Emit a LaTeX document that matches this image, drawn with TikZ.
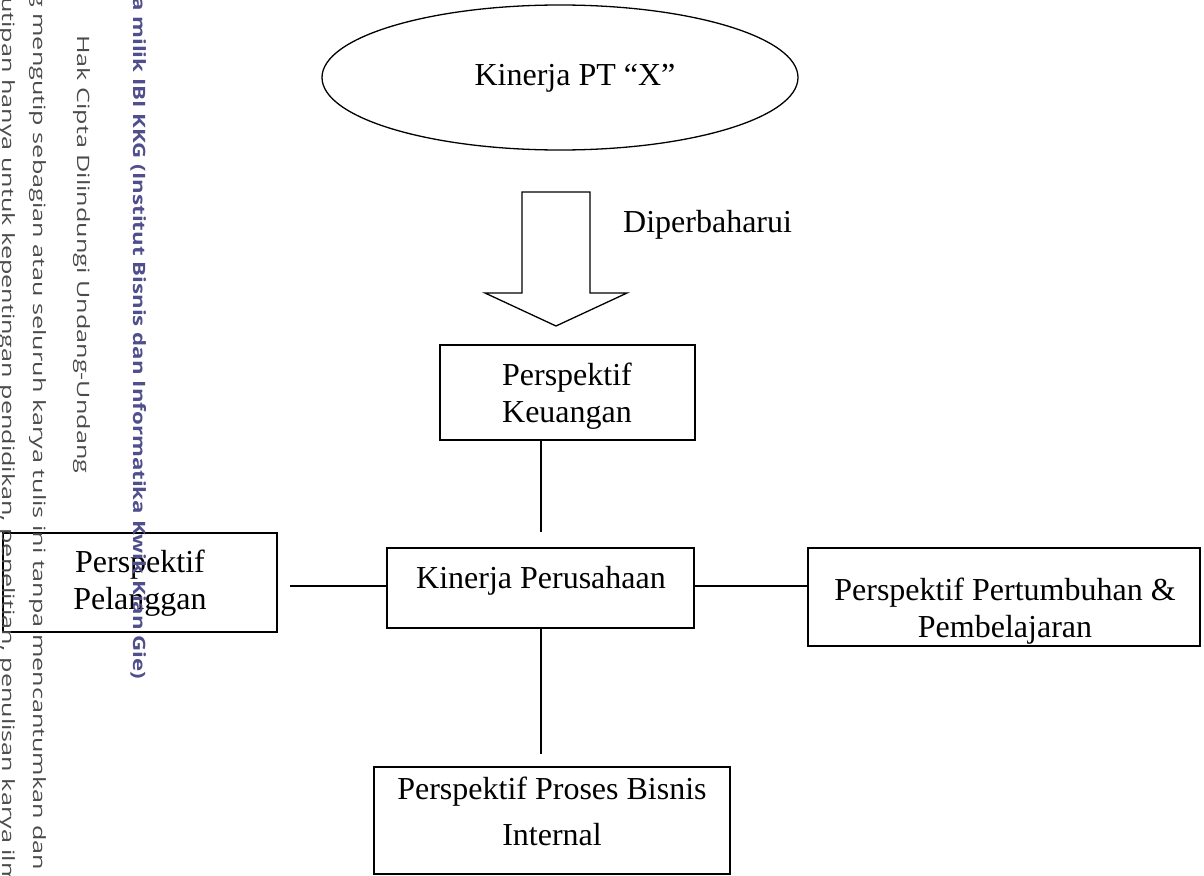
\documentclass[tikz,border=0pt]{standalone}
\usepackage{fontspec}
\setmainfont{Liberation Serif}
\newfontfamily\wmfont{Open Sans}
\usetikzlibrary{shapes.geometric}
\definecolor{wmpurple}{RGB}{80,78,140}
\definecolor{wmgray}{RGB}{75,75,75}
\newcommand\twoline[3][0pt]{\begin{tabular}[t]{@{}c@{}}#2\\[#1]#3\end{tabular}}
\begin{document}
\begin{tikzpicture}[x=1pt,y=-1pt,
  boxst/.style={draw, line width=1.6pt, inner sep=0pt, fill=white},
  txt/.style={inner sep=0pt, anchor=base, font=\fontsize{32}{37}\selectfont},
  ln/.style={line width=1.5pt},
  wmb/.style={inner sep=0pt, rotate=-90, anchor=base west, text=wmpurple, font=\wmfont\bfseries\fontsize{17}{20}\selectfont},
  wmg/.style={inner sep=0pt, rotate=-90, anchor=base west, text=wmgray, font=\wmfont\fontsize{17}{20}\selectfont}]
\useasboundingbox (0,0) rectangle (1204,875);
\clip (0,0) rectangle (1204,875);
\fill[white] (0,0) rectangle (1204,875);
% top ellipse
\node[draw, ellipse, line width=1.3pt, minimum width=476pt, minimum height=145pt, inner sep=0pt] (ell) at (560,77.5) {};
\node[txt] (ellt) at (575,85) {Kinerja PT “X”};
% block arrow
\draw[line width=1.3pt, line join=miter] (522,192) -- (590,192) -- (590,293) -- (627,293) -- (556,326) -- (485,293) -- (522,293) -- cycle;
\node[txt, anchor=base west] (upd) at (623,232) {Diperbaharui};
% boxes
\node[boxst, minimum width=255pt, minimum height=95pt] (keu) at (567.5,392.5) {};
\node[txt] (keut) at (567,385) {\twoline{Perspektif}{Keuangan}};
\node[boxst, minimum width=307pt, minimum height=80pt] (kp) at (540.5,588) {};
\node[txt] (kpt) at (541,588) {Kinerja Perusahaan};
\node[boxst, minimum width=274pt, minimum height=99pt] (pel) at (140,582.5) {};
\node[txt] (pelt) at (140,572) {\twoline{Perspektif}{Pelanggan}};
\node[boxst, minimum width=392pt, minimum height=98pt] (pp) at (1004,597) {};
\node[txt] (ppt) at (1005,600) {\twoline{Perspektif Pertumbuhan \&}{Pembelajaran}};
\node[boxst, minimum width=356pt, minimum height=107pt] (pro) at (552,820.5) {};
\node[txt] (prot) at (552,799) {\twoline[9pt]{Perspektif Proses Bisnis}{Internal}};
% connectors
\coordinate (ck) at (541,532);
\coordinate (cl) at (290,586);
\coordinate (cr) at (700,586);
\coordinate (cb) at (541,754);
\draw[ln] (ck |- keu.south) -- (ck);
\draw[ln] (cl) -- (kp.west |- cl);
\draw[ln] (kp.east |- cr) -- (pp.west |- cr);
\draw[ln] (kp.south -| cb) -- (cb);
% watermark
\node[wmb] (wm1) at (133,-3) {\scalebox{1.31}[1]{a milik IBI KKG (Institut Bisnis dan Informatika Kwik Kian Gie)}};
\node[wmg] (wm2) at (77,35) {\scalebox{1.48}[1]{Hak Cipta Dilindungi Undang-Undang}};
\node[wmg] (wm3) at (33,-7) {\scalebox{1.48}[1]{g mengutip sebagian atau seluruh karya tulis ini tanpa mencantumkan dan}};
\node[wmg] (wm4) at (2,-3) {\scalebox{1.48}[1]{utipan hanya untuk kepentingan pendidikan, penelitian, penulisan karya ilm}};
\end{tikzpicture}
\end{document}
